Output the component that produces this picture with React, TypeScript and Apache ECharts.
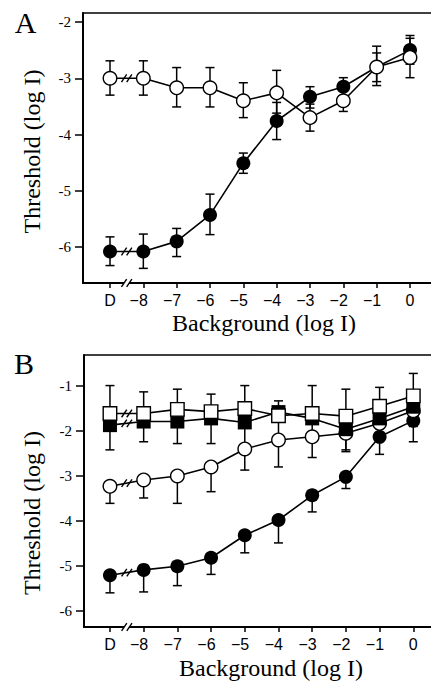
import React, { useEffect, useRef } from "react";
import * as echarts from "echarts";

// ---------- data ----------
const xLabels = ["D", "−8", "−7", "−6", "−5", "−4", "−3", "−2", "−1", "0"];
const xValues = [-9, -8, -7, -6, -5, -4, -3, -2, -1, 0];
const yTicksA = [-6, -5, -4, -3, -2];
const yTicksB = [-6, -5, -4, -3, -2, -1];
const breakAt = -8.5;

// Panel A
const aFilled = [-6.08, -6.08, -5.9, -5.43, -4.51, -3.76, -3.33, -3.15, -2.8, -2.5];
const aFilledLow = [-6.33, -6.38, -6.17, -5.78, -4.69, -4.09, -3.53, -3.31, -3.13, -2.75];
const aFilledHigh = [-5.82, -5.77, -5.67, -5.06, -4.33, -3.43, -3.15, -2.99, -2.43, -2.24];
const aOpen = [-3.0, -3.0, -3.17, -3.17, -3.4, -3.26, -3.7, -3.4, -2.8, -2.63];
const aOpenLow = [-3.3, -3.3, -3.51, -3.51, -3.7, -3.62, -3.94, -3.59, -3.06, -2.99];
const aOpenHigh = [-2.69, -2.69, -2.81, -2.81, -3.08, -2.86, -3.46, -3.22, -2.55, -2.29];

// Panel B
const bFilledCircle = [-5.21, -5.09, -5.01, -4.82, -4.32, -3.98, -3.43, -3.02, -2.13, -1.77];
const bFilledCircleLow = [-5.6, -5.58, -5.44, -5.19, -4.71, -4.49, -3.8, -3.28, -2.52, -2.24];
const bOpenCircle = [-3.23, -3.09, -3.0, -2.8, -2.4, -2.2, -2.13, -2.05, -1.83, -1.55];
const bOpenCircleLow = [-3.61, -3.49, -3.61, -3.35, -2.87, -2.8, -2.59, -2.46, -2.05, -1.9];
const bFilledSquare = [-1.87, -1.79, -1.79, -1.72, -1.81, -1.58, -1.72, -1.96, -1.72, -1.46];
const bFilledSquareLow = [-2.42, -2.24, -2.28, -2.28, -2.4, -2.2, -2.13, -2.42, -1.95, -1.7];
const bOpenSquare = [-1.61, -1.61, -1.52, -1.57, -1.5, -1.66, -1.61, -1.67, -1.45, -1.22];
const bOpenSquareHigh = [-0.99, -1.13, -1.07, -1.18, -0.99, -1.33, -0.99, -1.07, -1.03, -0.72];

// ---------- layout ----------
const A_X: [number, number] = [-9.81, 0.63];
const A_Y: [number, number] = [-6.64, -1.84];
const B_X: [number, number] = [-9.77, 0.525];
const B_Y: [number, number] = [-6.36, -0.31];

const BLACK = "#000";
const SANS = '"Liberation Sans", Arial, sans-serif';
const SERIF = '"Liberation Serif", "Times New Roman", serif';

function bottomAxis(gridIndex: number, range: [number, number]) {
  return {
    type: "value",
    gridIndex,
    position: "bottom",
    min: range[0],
    max: range[1],
    axisLine: { show: true, onZero: false, lineStyle: { color: BLACK, width: 2 } },
    axisTick: { show: true, customValues: xValues, length: 5, lineStyle: { color: BLACK, width: 1.5 } },
    axisLabel: {
      show: true,
      customValues: xValues,
      margin: 9,
      color: BLACK,
      fontFamily: SANS,
      fontSize: 16,
      formatter: (v: number) => {
        const idx = xValues.indexOf(Math.round(v));
        const label = idx >= 0 ? xLabels[idx] : "";
        return label.startsWith("−") ? `{n|${label}}{p| }` : `{n|${label}}`;
      },
      rich: {
        n: { fontFamily: SANS, fontSize: 16, color: BLACK },
        p: { fontFamily: SANS, fontSize: 16, width: 9.3 },
      },
    },
    splitLine: { show: false },
  };
}

function topAxis(gridIndex: number, range: [number, number]) {
  return {
    type: "value",
    gridIndex,
    position: "top",
    min: range[0],
    max: range[1],
    axisLine: { show: true, onZero: false, lineStyle: { color: BLACK, width: 1.5 } },
    axisTick: { show: false },
    axisLabel: { show: false },
    splitLine: { show: false },
  };
}

function leftAxis(gridIndex: number, range: [number, number], ticks: number[]) {
  return {
    type: "value",
    gridIndex,
    min: range[0],
    max: range[1],
    axisLine: { show: true, onZero: false, lineStyle: { color: BLACK, width: 2 } },
    axisTick: { show: true, customValues: ticks, length: 8, lineStyle: { color: BLACK, width: 1.5 } },
    axisLabel: {
      show: true,
      customValues: ticks,
      margin: 12,
      color: BLACK,
      fontFamily: SERIF,
      fontSize: 15,
      formatter: (v: number) => String(v),
    },
    splitLine: { show: false },
  };
}

function errSeries(xi: number, yi: number, lo: number[], hi: number[]) {
  return {
    type: "custom",
    xAxisIndex: xi,
    yAxisIndex: yi,
    silent: true,
    clip: false,
    data: xValues.map((x, i) => [x, lo[i], hi[i]]),
    encode: { x: 0, y: [1, 2] },
    renderItem: (_p: any, api: any) => {
      const x = api.value(0);
      const pLo = api.coord([x, api.value(1)]);
      const pHi = api.coord([x, api.value(2)]);
      const w = 4.5;
      const st = { stroke: BLACK, lineWidth: 1.5 };
      return {
        type: "group",
        children: [
          { type: "line", shape: { x1: pLo[0], y1: pLo[1], x2: pHi[0], y2: pHi[1] }, style: st },
          { type: "line", shape: { x1: pLo[0] - w, y1: pLo[1], x2: pLo[0] + w, y2: pLo[1] }, style: st },
          { type: "line", shape: { x1: pHi[0] - w, y1: pHi[1], x2: pHi[0] + w, y2: pHi[1] }, style: st },
        ],
      };
    },
  };
}

function lineSeries(xi: number, yi: number, vals: number[], symbol: string, filled: boolean) {
  return {
    type: "line",
    xAxisIndex: xi,
    yAxisIndex: yi,
    silent: true,
    data: xValues.map((x, i) => [x, vals[i]]),
    symbol,
    symbolSize: filled ? 14 : 13.5,
    showSymbol: true,
    lineStyle: { color: BLACK, width: 1.6 },
    itemStyle: filled
      ? { color: BLACK, borderColor: BLACK, borderWidth: 0 }
      : { color: "#fff", borderColor: BLACK, borderWidth: 1.4 },
  };
}

function breakSeries(xi: number, yi: number, ys: number[]) {
  return {
    type: "custom",
    xAxisIndex: xi,
    yAxisIndex: yi,
    silent: true,
    clip: false,
    data: ys.map((y) => [breakAt, y]),
    encode: { x: 0, y: 1 },
    renderItem: (_p: any, api: any) => {
      const p = api.coord([api.value(0), api.value(1)]);
      const cx = p[0];
      const cy = p[1];
      const h = 3.8;
      const d = 2.6;
      const off = 2.6;
      const st = { stroke: BLACK, lineWidth: 1.4 };
      return {
        type: "group",
        children: [
          {
            type: "polygon",
            shape: {
              points: [
                [cx - off - d, cy + h],
                [cx - off + d, cy - h],
                [cx + off + d, cy - h],
                [cx + off - d, cy + h],
              ],
            },
            style: { fill: "#fff" },
          },
          { type: "line", shape: { x1: cx - off - d, y1: cy + h, x2: cx - off + d, y2: cy - h }, style: st },
          { type: "line", shape: { x1: cx + off - d, y1: cy + h, x2: cx + off + d, y2: cy - h }, style: st },
        ],
      };
    },
  };
}

const same = (v: number[]) => v.slice();
const mid = (v: number[]) => (v[0] + v[1]) / 2;

export default function App() {
  const ref = useRef<HTMLDivElement>(null);

  useEffect(() => {
    if (!ref.current) return;
    const chart = echarts.init(ref.current, undefined, { renderer: "svg" });
    const titleFont = `24px ${SERIF}`;
    chart.setOption({
      animation: false,
      backgroundColor: "#fff",
      grid: [
        { left: 83, top: 13, width: 348, height: 270 },
        { left: 84, top: 355, width: 347, height: 272 },
      ],
      xAxis: [bottomAxis(0, A_X), topAxis(0, A_X), bottomAxis(1, B_X), topAxis(1, B_X)],
      yAxis: [leftAxis(0, A_Y, yTicksA), leftAxis(1, B_Y, yTicksB)],
      series: [
        // Panel A
        errSeries(0, 0, aFilledLow, aFilledHigh),
        lineSeries(0, 0, aFilled, "circle", true),
        errSeries(0, 0, aOpenLow, aOpenHigh),
        lineSeries(0, 0, aOpen, "circle", false),
        breakSeries(0, 0, [mid(aOpen), mid(aFilled), A_Y[0]]),
        // Panel B
        errSeries(2, 1, bFilledCircleLow, same(bFilledCircle)),
        lineSeries(2, 1, bFilledCircle, "circle", true),
        errSeries(2, 1, bOpenCircleLow, same(bOpenCircle)),
        lineSeries(2, 1, bOpenCircle, "circle", false),
        errSeries(2, 1, bFilledSquareLow, same(bFilledSquare)),
        lineSeries(2, 1, bFilledSquare, "rect", true),
        errSeries(2, 1, same(bOpenSquare), bOpenSquareHigh),
        lineSeries(2, 1, bOpenSquare, "rect", false),
        breakSeries(2, 1, [mid(bOpenSquare), mid(bFilledSquare), mid(bOpenCircle), mid(bFilledCircle), B_Y[0]]),
      ],
      graphic: [
        { type: "text", x: 25.5, y: 22, style: { text: "A", font: `30px ${SERIF}`, fill: BLACK, align: "center", verticalAlign: "middle" } },
        { type: "text", x: 24, y: 363, style: { text: "B", font: `30px ${SERIF}`, fill: BLACK, align: "center", verticalAlign: "middle" } },
        { type: "text", x: 32, y: 151.5, rotation: Math.PI / 2, style: { text: "Threshold (log I)", font: titleFont, fill: BLACK, align: "center", verticalAlign: "middle" } },
        { type: "text", x: 32, y: 513, rotation: Math.PI / 2, style: { text: "Threshold (log I)", font: titleFont, fill: BLACK, align: "center", verticalAlign: "middle" } },
        { type: "text", x: 264, y: 323.4, style: { text: "Background (log I)", font: titleFont, fill: BLACK, align: "center", verticalAlign: "middle" } },
        { type: "text", x: 271, y: 667.5, style: { text: "Background (log I)", font: titleFont, fill: BLACK, align: "center", verticalAlign: "middle" } },
      ],
    });
    return () => chart.dispose();
  }, []);

  return (
    <div
      ref={ref}
      style={{ position: "absolute", left: 0, top: 0, width: 431, height: 681 }}
    />
  );
}
